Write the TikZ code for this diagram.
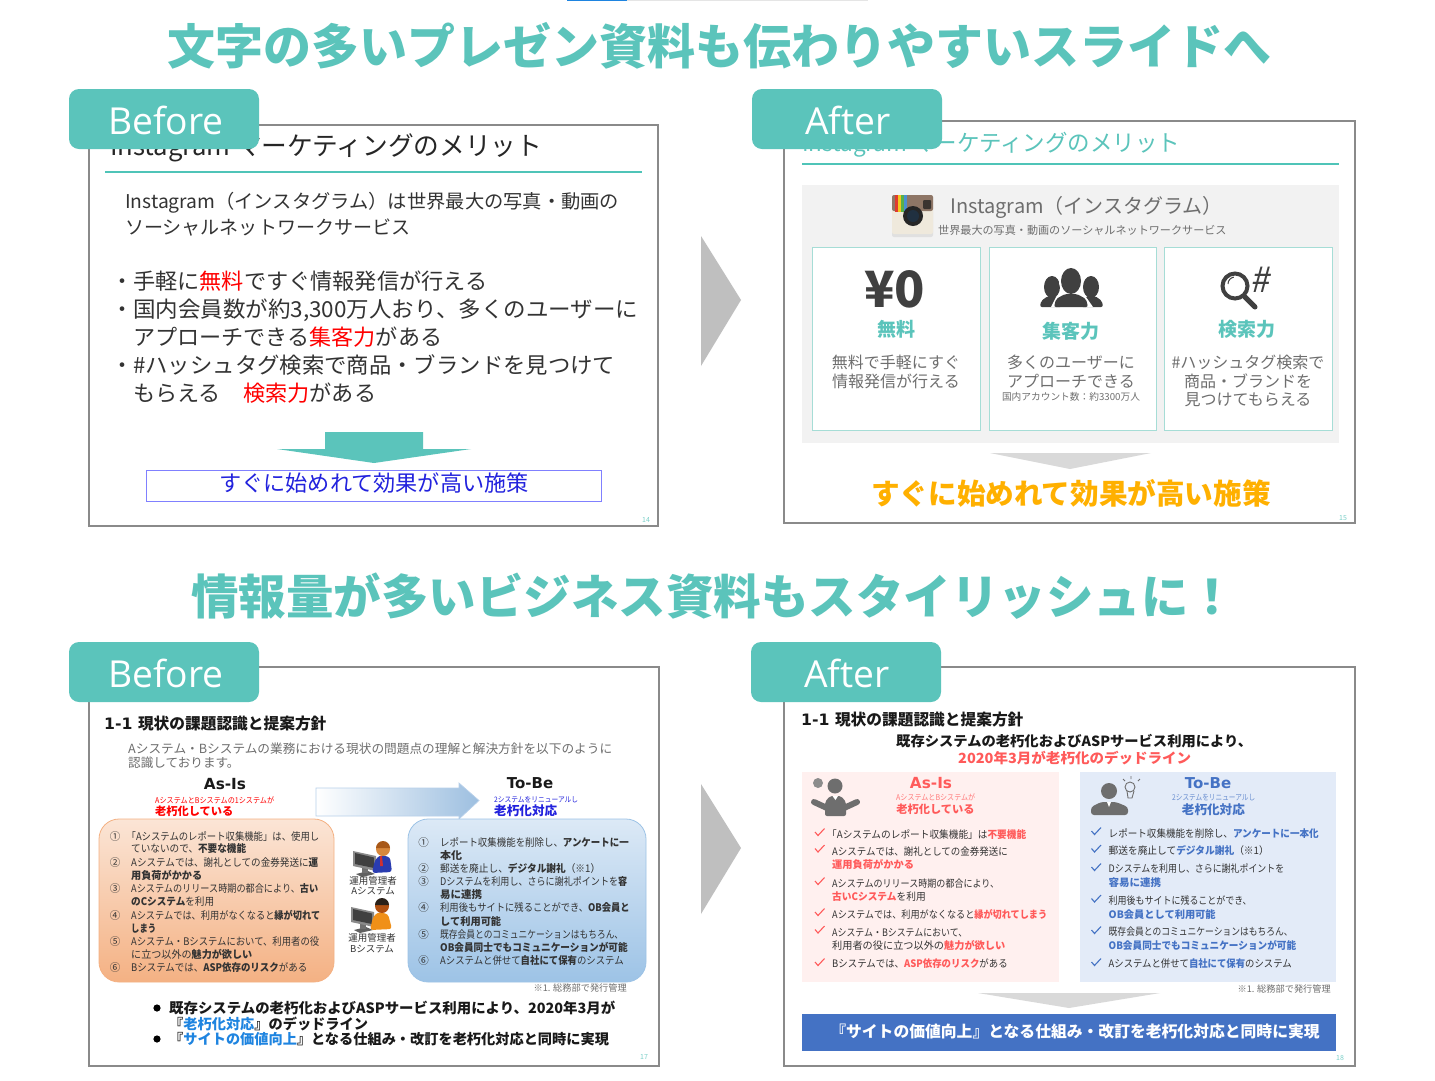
\documentclass[tikz,border=0pt]{standalone}
\usepackage{fontspec}
\usepackage{graphicx}
\setmainfont{Noto Sans CJK JP}
\newfontfamily\tabf{Open Sans}
\newfontfamily\dvb{DejaVu Sans}
\definecolor{teal}{HTML}{5BC4BB}
\definecolor{tealline}{HTML}{4FC4B8}
\definecolor{cardline}{HTML}{A6DDD6}
\definecolor{frameg}{HTML}{8A8A8A}
\definecolor{txt}{HTML}{333333}
\definecolor{softg}{HTML}{6E6E6E}
\definecolor{darkg}{HTML}{404040}
\definecolor{iconb}{HTML}{6E6E6E}
\definecolor{coral}{HTML}{FF5A5A}
\definecolor{royal}{HTML}{4472C4}
\definecolor{sky}{HTML}{1E84E0}
\definecolor{nblue}{HTML}{2222DD}
\definecolor{amber}{HTML}{FFB000}
\definecolor{camA}{HTML}{EFE9DC}
\definecolor{camB}{HTML}{8E7666}
\definecolor{camR}{HTML}{E03A2E}
\definecolor{camY}{HTML}{F2C81E}
\definecolor{camG}{HTML}{58B04A}
\definecolor{camL}{HTML}{4A90D0}
\definecolor{camD}{HTML}{3A3430}
\definecolor{camE}{HTML}{203040}
\definecolor{arrR}{HTML}{9DBFE0}
\definecolor{arrL}{HTML}{B8D0EA}
\definecolor{orT}{HTML}{FBE5D6}
\definecolor{orB}{HTML}{F4B183}
\definecolor{blT}{HTML}{DCE9F6}
\definecolor{blB}{HTML}{9DC3E6}
\definecolor{g60}{HTML}{606060}
\definecolor{g70}{HTML}{707070}
\definecolor{g8a}{HTML}{8A8A8A}
\definecolor{g40}{HTML}{404040}
\definecolor{suit}{HTML}{2A3CB0}
\definecolor{tie}{HTML}{D03030}
\definecolor{skinA}{HTML}{D8883C}
\definecolor{hairA}{HTML}{A85818}
\definecolor{vest}{HTML}{F09018}
\definecolor{skinB}{HTML}{B05010}
\definecolor{hairB}{HTML}{2A2018}
\definecolor{pinkbg}{HTML}{FFF0EF}
\definecolor{bluebg}{HTML}{E3EBF8}
% plain text: left, centred, right; LW: left-aligned, squeezed to a given width
\newcommand\LT[5][txt]{\node[anchor=base west,inner sep=0,text=#1,font=\fontsize{#4}{#4}\selectfont] at (#2,{#3+0.40*#4}) {#5};}
\newcommand\CT[5][txt]{\node[anchor=base,inner sep=0,text=#1,font=\fontsize{#4}{#4}\selectfont] at (#2,{#3+0.40*#4}) {#5};}
\newcommand\RT[5][txt]{\node[anchor=base east,inner sep=0,text=#1,font=\fontsize{#4}{#4}\selectfont] at (#2,{#3+0.40*#4}) {#5};}
\newcommand\LW[6][txt]{\node[anchor=base west,inner sep=0,text=#1,font=\fontsize{#4}{#4}\selectfont] at (#2,{#3+0.40*#4}) {\resizebox{#5pt}{\height}{#6}};}
\newcommand\RB[1]{\textcolor{red}{#1}}
\newcommand\CB[1]{\textcolor{coral}{\textbf{#1}}}
\newcommand\BB[1]{\textcolor{royal}{\textbf{#1}}}
\newcommand\CHK[3]{\draw[#3,line width=1.1] (#1,#2) -- ++(3,3.5) -- ++(6.5,-7);}
\newcommand\TAB[4]{\fill[teal,rounded corners=10] (#1,#2) rectangle ++(190,60);
  \node[anchor=base west,inner sep=0,text=white,font=\tabf\fontsize{37.2}{37.2}\selectfont] at (#3,{#2+45}) {#4};}
\tikzset{frame/.style={draw=frameg,line width=2.2,fill=white}}
\begin{document}
\begin{tikzpicture}[x=1pt,y=-1pt]
\useasboundingbox (0,0) rectangle (1435,1080);
\fill[white] (0,0) rectangle (1435,1080);
% top sliver
\fill[black!10] (627,0) rectangle (868,1);
\fill[sky] (567,0) rectangle (627,1.2);
% titles
\CT[teal]{719.5}{45.5}{48}{\textbf{文字の多いプレゼン資料も伝わりやすいスライドへ}}
\CT[teal]{713.5}{595.5}{47.5}{\textbf{情報量が多いビジネス資料もスタイリッシュに！}}
% chevrons
\fill[black!25] (701,236) -- (741,300) -- (701,366) -- cycle;
\fill[black!25] (701,784) -- (741,848) -- (701,914) -- cycle;

% ---------- Panel 1
\draw[frame] (89,125) rectangle (658,526);
\LW[black!85]{110}{145}{26}{432}{Instagram マーケティングのメリット}
\draw[tealline,line width=1.3] (105,172) -- (642,172);
\LW{125}{201}{19}{494}{Instagram（インスタグラム）は世界最大の写真・動画の}
\LW{125}{227}{19}{285}{ソーシャルネットワークサービス}
\CT{122}{281}{22}{・}\LW{133}{281}{22}{354}{手軽に\RB{無料}ですぐ情報発信が行える}
\CT{122}{309}{22}{・}\LW{133}{309}{22}{505}{国内会員数が約3,300万人おり、多くのユーザーに}
\LW{133}{337}{22}{309}{アプローチできる\RB{集客力}がある}
\CT{122}{365}{22}{・}\LW{133}{365}{22}{482}{\#ハッシュタグ検索で商品・ブランドを見つけて}
\LW{133}{393}{22}{243}{もらえる　\RB{検索力}がある}
\fill[teal] (325,432) -- (423,432) -- (423,449) -- (471,449) -- (374,463) -- (277,449) -- (325,449) -- cycle;
\draw[draw=blue!50,line width=1] (146,470) rectangle (601,501);
\CT[nblue]{374}{483}{22.15}{すぐに始めれて効果が高い施策}
\CT[teal!80]{646}{520}{7}{14}
\TAB{69}{89}{108}{Before}

% ---------- Panel 2
\draw[frame] (784,121) rectangle (1355,523);
\LW[teal]{802}{142}{23}{378}{Instagram マーケティングのメリット}
\draw[tealline,line width=1.3] (802,164) -- (1339,164);
\fill[black!5] (802,185) rectangle (1339,443);
% instagram icon
\fill[black!12,rounded corners=2] (892,196) rectangle (933,237);
\fill[camA,rounded corners=2] (892,195) rectangle (933,234);
\fill[camB,rounded corners=2] (892,195) rectangle (933,211);
\fill[camR] (895,195) rectangle (898,212);
\fill[camY] (898,195) rectangle (901,212);
\fill[camG] (901,195) rectangle (904,212);
\fill[camL] (904,195) rectangle (907,212);
\fill[camD,rounded corners=1] (923,200) rectangle (931,209);
\fill[black!85] (913,216) circle (10);
\fill[camE] (913,216) circle (6);
\LT[softg]{950}{205}{20}{Instagram（インスタグラム）}
\LT[softg]{938}{230}{11.1}{世界最大の写真・動画のソーシャルネットワークサービス}
% cards
\foreach \xa/\xb in {812/980,989/1156,1164/1332}{
  \draw[cardline,line width=1,fill=white] (\xa,247) rectangle (\xb,430);}
\CT[darkg]{894.5}{287}{50}{\textbf{¥0}}
\CT[teal]{896}{329}{19}{\textbf{無料}}
\CT[softg]{896}{362}{16}{無料で手軽にすぐ}
\CT[softg]{896}{381}{16}{情報発信が行える}
% people
\begin{scope}[darkg]
\fill (1052,287) ellipse (8 and 11);
\fill (1091,287) ellipse (8 and 11);
\fill[rounded corners=2] (1040,307) -- (1041,301) -- (1048,296) -- (1056,296) -- (1062,301) -- (1062,307) -- cycle;
\fill[rounded corners=2] (1103,307) -- (1102,301) -- (1095,296) -- (1087,296) -- (1081,301) -- (1081,307) -- cycle;
\fill[white] (1071,281) ellipse (12 and 15);
\fill[white] (1051,307) -- (1056,297) -- (1086,297) -- (1093,307) -- cycle;
\fill (1071,281) ellipse (10 and 13);
\fill[rounded corners=2] (1054,307) -- (1056,299) -- (1065,294) -- (1077,294) -- (1086,299) -- (1088,307) -- cycle;
\end{scope}
\CT[teal]{1071}{331}{19}{\textbf{集客力}}
\CT[softg]{1071}{362}{16}{多くのユーザーに}
\CT[softg]{1071}{381}{16}{アプローチできる}
\CT[softg]{1071}{397}{9.7}{国内アカウント数：約3300万人}
% search
\draw[darkg,line width=4] (1235,286) circle (12.5);
\draw[darkg,line width=1] (1228,284) arc[start angle=180,end angle=260,radius=7];
\draw[darkg,line width=5,line cap=round] (1245,297) -- (1255,307);
\node[inner sep=0,text=darkg,font=\fontsize{35}{35}\selectfont,xslant=0.15] at (1262,280) {\#};
\CT[teal]{1247}{329}{19}{\textbf{検索力}}
\CT[softg]{1248}{362}{16}{\#ハッシュタグ検索で}
\CT[softg]{1248}{381}{16}{商品・ブランドを}
\CT[softg]{1248}{399}{16}{見つけてもらえる}
\fill[black!15] (990,453) -- (1151,453) -- (1070,469) -- cycle;
\CT[amber]{1071}{493}{28.6}{\textbf{すぐに始めれて効果が高い施策}}
\CT[teal!80]{1343}{518}{7}{15}
\TAB{752}{89}{805}{After}

% ---------- Panel 3
\draw[frame] (89,667) rectangle (659,1066);
\LT[black!90]{104}{723}{15.7}{{\dvb\bfseries 1-1 }\textbf{現状の課題認識と提案方針}}
\LW[softg]{128}{748}{12.6}{484}{Aシステム・Bシステムの業務における現状の問題点の理解と解決方針を以下のように}
\LT[softg]{128}{762}{12.6}{認識しております。}
\CT[black!90]{225}{783}{15.3}{{\dvb\bfseries As-Is}}
\LW[red]{155}{800}{8}{119}{AシステムとBシステムの1システムが}
\LT[red]{155}{811}{11.2}{\textbf{老朽化している}}
\path[left color=white,right color=arrR,draw=arrL,line width=.7]
  (316,788) -- (459,788) -- (459,783) -- (479,800.5) -- (459,819) -- (459,816) -- (316,816) -- cycle;
\CT[black!90]{530}{782}{15}{{\dvb\bfseries To-Be}}
\LW[nblue]{494}{799}{7.5}{84}{2システムをリニューアルし}
\LT[nblue]{494}{810}{12.6}{\textbf{老朽化対応}}
\shade[rounded corners=20,top color=orT,bottom color=orB] (99,819) rectangle (334,982);
\draw[rounded corners=20,orB,line width=.8] (99,819) rectangle (334,982);
\shade[rounded corners=20,top color=blT,bottom color=blB] (408,819) rectangle (646,982);
\draw[rounded corners=20,blB,line width=.8] (408,819) rectangle (646,982);
% as-is list
\CT{115}{836}{10.5}{①}\LW{126.5}{836}{10.5}{192.5}{「Aシステムのレポート収集機能」は、使用し}
\LW{131}{848.5}{10.5}{115}{ていないので、\textbf{不要な機能}}
\CT{115}{862}{10.5}{②}\LW{131}{862}{10.5}{187}{Aシステムでは、謝礼としての金券発送に\textbf{運}}
\LW{131}{875}{10.5}{71}{\textbf{用負荷がかかる}}
\CT{115}{888}{10.5}{③}\LW{131}{888}{10.5}{187}{Aシステムのリリース時期の都合により、\textbf{古い}}
\LW{131}{901}{10.5}{83}{\textbf{のCシステム}を利用}
\CT{115}{915}{10.5}{④}\LW{131}{915}{10.5}{189}{Aシステムでは、利用がなくなると\textbf{縁が切れて}}
\LW{131}{928}{10.5}{25}{\textbf{しまう}}
\CT{115}{941}{10.5}{⑤}\LW{131}{941}{10.5}{188}{Aシステム・Bシステムにおいて、利用者の役}
\LW{131}{954}{10.5}{121}{に立つ以外の\textbf{魅力が欲しい}}
\CT{115}{967.5}{10.5}{⑥}\LW{131}{967.5}{10.5}{176}{Bシステムでは、\textbf{ASP依存のリスク}がある}
% to-be list
\CT{423.5}{842}{10.5}{①}\LW{440}{842}{10.5}{188.5}{レポート収集機能を削除し、\textbf{アンケートに一}}
\LW{440}{855}{10.5}{22}{\textbf{本化}}
\CT{423.5}{868}{10.5}{②}\LW{440}{868}{10.5}{160}{郵送を廃止し、\textbf{デジタル謝礼}（※1）}
\CT{423.5}{881.5}{10.5}{③}\LW{440}{881.5}{10.5}{187}{Dシステムを利用し、さらに謝礼ポイントを\textbf{容}}
\LW{440}{894}{10.5}{42}{\textbf{易に連携}}
\CT{423.5}{907.5}{10.5}{④}\LW{440}{907.5}{10.5}{189.5}{利用後もサイトに残ることができ、\textbf{OB会員と}}
\LW{440}{921}{10.5}{61}{\textbf{して利用可能}}
\CT{423.5}{934}{10.5}{⑤}\LW{440}{934}{10.5}{183}{既存会員とのコミュニケーションはもちろん、}
\LW{440}{947.5}{10.5}{187.5}{\textbf{OB会員同士でもコミュニケーションが可能}}
\CT{423.5}{960.5}{10.5}{⑥}\LW{440}{960.5}{10.5}{183.5}{Aシステムと併せて\textbf{自社にて保有}のシステム}
% operator icons
\begin{scope}
\fill[g60] (368,871) -- (375,874) -- (362,877) -- (356,874) -- cycle;
\fill[g70] (362,862) rectangle (368,873);
\fill[g8a] (353,851) -- (376,856) -- (376,871) -- (353,866) -- cycle;
\fill[g40] (355,853) -- (374,857.5) -- (374,868) -- (355,864) -- cycle;
\fill[suit,rounded corners=3] (372,873) -- (375,860) -- (380,855) -- (390,857) -- (392,872) -- cycle;
\fill[tie] (380,856) -- (382,856) -- (383,866) -- (380,866) -- cycle;
\fill[skinA] (383,849) circle (7);
\fill[hairA] (376,848) arc[start angle=180,end angle=360,radius=7] -- cycle;
\end{scope}
\CT{373}{881}{9.5}{運用管理者}
\CT{373}{891}{9.5}{Aシステム}
\begin{scope}
\fill[g60] (366,927) -- (373,930) -- (360,933) -- (354,930) -- cycle;
\fill[g70] (360,918) rectangle (366,929);
\fill[g8a] (351,907) -- (374,912) -- (374,927) -- (351,922) -- cycle;
\fill[g40] (353,909) -- (372,913.5) -- (372,924) -- (353,920) -- cycle;
\fill[vest,rounded corners=3] (370,930) -- (373,917) -- (378,912) -- (388,914) -- (392,929) -- cycle;
\fill[skinB] (382,906) circle (7);
\fill[hairB] (375,905) arc[start angle=180,end angle=360,radius=7] -- cycle;
\end{scope}
\CT{372}{938}{9.5}{運用管理者}
\CT{372}{949}{9.5}{Bシステム}
\RT[softg]{627}{988}{9.2}{※1. 総務部で発行管理}
\fill[black] (157,1008) circle (3.6);
\fill[black] (157,1039) circle (3.6);
\LW[black!90]{169}{1008}{14.2}{446}{\textbf{既存システムの老朽化およびASPサービス利用により、2020年3月が}}
\LT[black!90]{169}{1024}{14.2}{\textbf{『\textcolor{sky}{老朽化対応}』のデッドライン}}
\LT[black!90]{169}{1039}{14.2}{\textbf{『\textcolor{sky}{サイトの価値向上}』となる仕組み・改訂を老朽化対応と同時に実現}}
\CT[teal!80]{644}{1057}{7}{17}
\TAB{69}{642}{108}{Before}

% ---------- Panel 4
\draw[frame] (784,667) rectangle (1355,1066);
\LT[black!90]{801}{719}{15.7}{{\dvb\bfseries 1-1 }\textbf{現状の課題認識と提案方針}}
\LW[black!90]{896}{741}{14}{356}{\textbf{既存システムの老朽化およびASPサービス利用により、}}
\LW[coral]{958}{758}{14}{233}{\textbf{2020年3月が老朽化のデッドライン}}
\fill[pinkbg] (802,772) rectangle (1059,982);
\fill[bluebg] (1080,772) rectangle (1336,982);
\CT[coral]{931}{782}{15.3}{{\dvb\bfseries As-Is}}
\LW[coral!80]{896}{797}{8}{79}{AシステムとBシステムが}
\CT[coral]{935.5}{809}{11.2}{\textbf{老朽化している}}
% shrugging man
\begin{scope}[iconb]
\fill[black!45] (818,783) circle (5);
\fill (835,786) circle (7.5);
\fill[rounded corners=2] (825,816) -- (825,802) -- (830,796) -- (841,796) -- (846,802) -- (846,816) -- cycle;
\draw[line width=6,line cap=round] (827,808) -- (814,802);
\draw[line width=6,line cap=round] (844,808) -- (857,802);
\fill[white] (832.5,796) -- (838,796) -- (835.5,800) -- cycle;
\end{scope}
\CHK{815}{832}{coral}
\LW{827}{834}{10.3}{199}{「Aシステムのレポート収集機能」は\CB{不要機能}}
\CHK{815}{848.5}{coral}
\LW{832}{851}{10.3}{175.5}{Aシステムでは、謝礼としての金券発送に}
\LW{832}{864.7}{10.3}{82}{\CB{運用負荷がかかる}}
\CHK{815}{881}{coral}
\LW{832}{883}{10.3}{167}{Aシステムのリリース時期の都合により、}
\LW{832}{896.7}{10.3}{93.5}{\CB{古いCシステム}を利用}
\CHK{815}{912}{coral}
\LW{832}{914}{10.3}{215}{Aシステムでは、利用がなくなると\CB{縁が切れてしまう}}
\CHK{815}{929.5}{coral}
\LW{832}{932}{10.3}{135}{Aシステム・Bシステムにおいて、}
\LW{832}{945.7}{10.3}{173}{利用者の役に立つ以外の\CB{魅力が欲しい}}
\CHK{815}{962}{coral}
\LW{832}{963.5}{10.3}{175.5}{Bシステムでは、\CB{ASP依存のリスク}がある}
\CT[royal]{1208}{782}{15}{{\dvb\bfseries To-Be}}
\LW[royal!80]{1172}{797}{8}{83}{2システムをリニューアルし}
\CT[royal]{1213.4}{809}{12.6}{\textbf{老朽化対応}}
% idea man
\begin{scope}[iconb]
\fill (1109,791) circle (8);
\fill[rounded corners=3] (1091,815) -- (1091,807) -- (1101,802) -- (1116,802) -- (1128,807) -- (1128,815) -- cycle;
\fill[white] (1107,802) -- (1111,802) -- (1109,807) -- cycle;
\draw[line width=.9] (1130,787) circle (5);
\draw[line width=.9] (1127,791) -- (1128,798) -- (1132,798) -- (1134,791);
\draw[line width=.9] (1131,776) -- (1131,779) (1123,779) -- (1125,781) (1140,779) -- (1138,781);
\end{scope}
\CHK{1091.5}{831}{royal}
\LW{1108.5}{833.3}{10.3}{210}{レポート収集機能を削除し、\BB{アンケートに一本化}}
\CHK{1091.5}{848.5}{royal}
\LW{1108.5}{850.7}{10.3}{160}{郵送を廃止して\BB{デジタル謝礼}（※1）}
\CHK{1091.5}{867}{royal}
\LW{1108.5}{868.3}{10.3}{175.5}{Dシステムを利用し、さらに謝礼ポイントを}
\LW{1108.5}{882.3}{10.3}{52.5}{\BB{容易に連携}}
\CHK{1091.5}{898.5}{royal}
\LW{1108.5}{900.7}{10.3}{143}{利用後もサイトに残ることができ、}
\LW{1108.5}{914}{10.3}{107}{\BB{OB会員として利用可能}}
\CHK{1091.5}{930}{royal}
\LW{1108.5}{931.7}{10.3}{184}{既存会員とのコミュニケーションはもちろん、}
\LW{1108.5}{945}{10.3}{187.5}{\BB{OB会員同士でもコミュニケーションが可能}}
\CHK{1091.5}{962}{royal}
\LW{1108.5}{963.3}{10.3}{183}{Aシステムと併せて\BB{自社にて保有}のシステム}
\RT[softg]{1331}{989}{9.2}{※1. 総務部で発行管理}
\fill[black!15] (978,993) -- (1160,993) -- (1069,1008) -- cycle;
\fill[royal] (802,1014) rectangle (1336,1051);
\CT[white]{1075}{1031}{15.8}{\textbf{『サイトの価値向上』となる仕組み・改訂を老朽化対応と同時に実現}}
\CT[teal!80]{1340}{1058}{7}{18}
\TAB{751}{642}{804}{After}
\end{tikzpicture}
\end{document}
